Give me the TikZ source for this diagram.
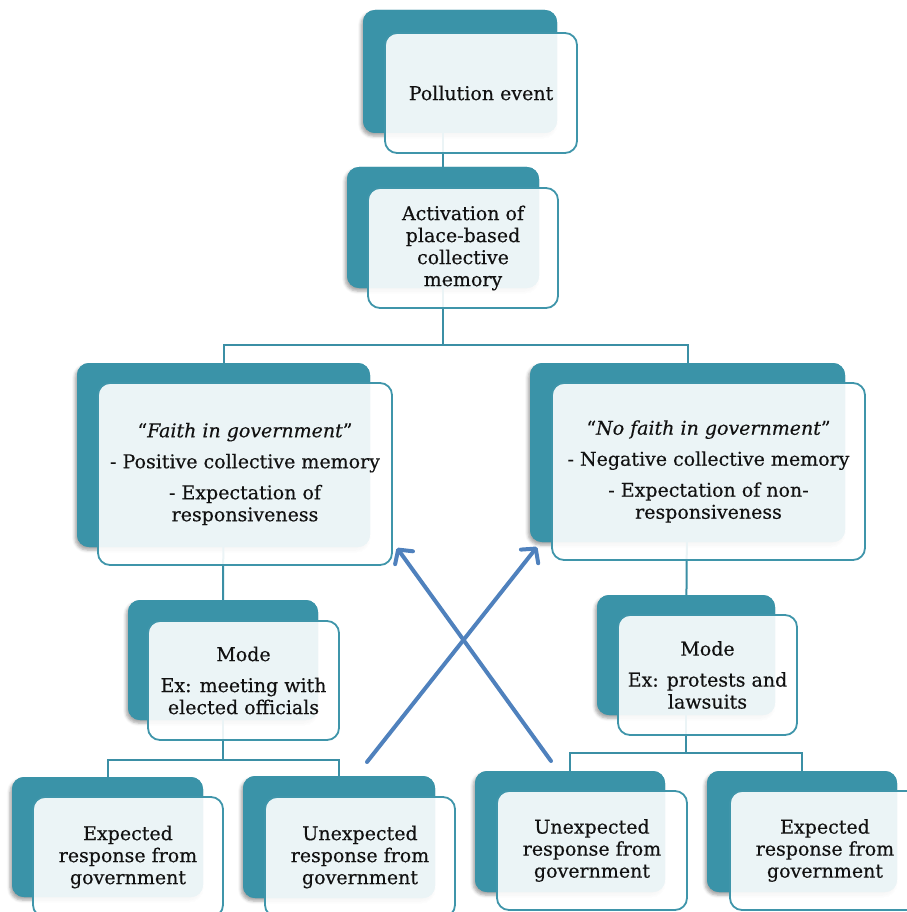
\documentclass[tikz,border=0pt]{standalone}
\usepackage{fontspec}
\setmainfont{DejaVu Serif}[FakeBold=0.35]
\usetikzlibrary{arrows.meta,shadows.blur}
\definecolor{cardteal}{HTML}{3A93A8}
\definecolor{cardedge}{HTML}{3F95AA}
\definecolor{linkteal}{HTML}{3B8FA5}
\definecolor{arrowblue}{HTML}{4F81BD}
\definecolor{ink}{HTML}{111111}
\begin{document}
\begin{tikzpicture}[x=1pt,y=-1pt,
  back/.style={rectangle, rounded corners=12pt, fill=cardteal, draw=none,
    inner sep=0pt, outer sep=0pt,
    blur shadow={shadow xshift=-2pt, shadow yshift=-3pt,
      shadow blur radius=3pt, shadow opacity=35}},
  front/.style={rectangle, rounded corners=12pt, draw=cardedge, line width=1.8pt,
    fill=white, fill opacity=0.9, text opacity=1, text=ink, align=center,
    inner sep=0pt, outer sep=0pt, font=\fontsize{19}{22}\selectfont},
  conn/.style={draw=linkteal, line width=2pt},
  cross/.style={draw=arrowblue, line width=4pt, line cap=round,
    -{Straight Barb[length=10pt, width=22pt, round]}}
]
\useasboundingbox (0,0) rectangle (906,912);

% back cards (with their shadows)
\node[back, minimum width=194pt, minimum height=123pt] (b1) at (460,71.5) {};
\node[back, minimum width=192pt, minimum height=121pt] (b2) at (443,227.5) {};
\node[back, minimum width=293pt, minimum height=184pt] (b3) at (223.5,455) {};
\node[back, minimum width=315pt, minimum height=179pt] (b4) at (687.5,452.5) {};
\node[back, minimum width=190pt, minimum height=120pt] (b5) at (223,660) {};
\node[back, minimum width=178pt, minimum height=120pt] (b6) at (686,655) {};
\node[back, minimum width=191pt, minimum height=120pt] (b7) at (107.5,837) {};
\node[back, minimum width=192pt, minimum height=122pt] (b8) at (339,837) {};
\node[back, minimum width=190pt, minimum height=121pt] (b9) at (570,831.5) {};
\node[back, minimum width=190pt, minimum height=121pt] (b10) at (802,831.5) {};

% tree connectors
\coordinate (busA) at (0,345);
\coordinate (busB) at (0,760);
\coordinate (busC) at (0,753);
\draw[conn] (b2.center) -- (b2.center |- b1.center);
\draw[conn] (b2.center) -- (b2.center |- busA) -| (b3.center);
\draw[conn] (b2.center |- busA) -| (b4.center);
\draw[conn] (b3.center) -- (b5.center);
\draw[conn] (b4.center) -- (b6.center);
\draw[conn] (b5.center) -- (b5.center |- busB) -| (b7.center);
\draw[conn] (b5.center |- busB) -| (b8.center);
\draw[conn] (b6.center) -- (b6.center |- busC) -| (b9.center);
\draw[conn] (b6.center |- busC) -| (b10.center);

% repaint the back cards above the connectors
\foreach \n/\x/\y/\w/\h in {b1/460/71.5/194/123, b2/443/227.5/192/121,
  b3/223.5/455/293/184, b4/687.5/452.5/315/179, b5/223/660/190/120,
  b6/686/655/178/120, b7/107.5/837/191/120, b8/339/837/192/122,
  b9/570/831.5/190/121, b10/802/831.5/190/121}
  \path[fill=cardteal, rounded corners=12pt]
    (\x-\w/2,\y-\h/2) rectangle (\x+\w/2,\y+\h/2);

% front cards with text
\node[front, minimum width=192pt, minimum height=120pt] (f1) at (481,93)
  {Pollution event};
\node[front, minimum width=190pt, minimum height=120pt] (f2) at (463,248)
  {Activation of\\place-based\\collective\\memory};
\node[front, minimum width=294pt, minimum height=182pt] (f3) at (245,474)
  {“\textit{Faith in government}”\\[9pt]- Positive collective memory\\[9pt]- Expectation of\\responsiveness};
\node[front, minimum width=313pt, minimum height=177pt] (f4) at (708.5,471.5)
  {“\textit{No faith in government}”\\[9pt]- Negative collective memory\\[9pt]- Expectation of non-\\responsiveness};
\node[front, minimum width=191pt, minimum height=119pt] (f5) at (243.5,680.5)
  {Mode\\[9pt]Ex: meeting with\\elected officials};
\node[front, minimum width=179pt, minimum height=120pt] (f6) at (707.5,675)
  {Mode\\[9pt]Ex: protests and\\lawsuits};
\node[front, minimum width=190pt, minimum height=120pt] (f7) at (128,857)
  {Expected\\response from\\government};
\node[front, minimum width=190pt, minimum height=120pt] (f8) at (360,857)
  {Unexpected\\response from\\government};
\node[front, minimum width=190pt, minimum height=119pt] (f9) at (592,850.5)
  {Unexpected\\response from\\government};
\node[front, minimum width=190pt, minimum height=119pt] (f10) at (825,850.5)
  {Expected\\response from\\government};

% crossing arrows
\coordinate (x1s) at (367,762);
\coordinate (x1e) at (537,547);
\coordinate (x2s) at (551,761);
\coordinate (x2e) at (397,548);
\draw[cross] (x1s) -- (x1e);
\draw[cross] (x2s) -- (x2e);
\end{tikzpicture}
\end{document}
